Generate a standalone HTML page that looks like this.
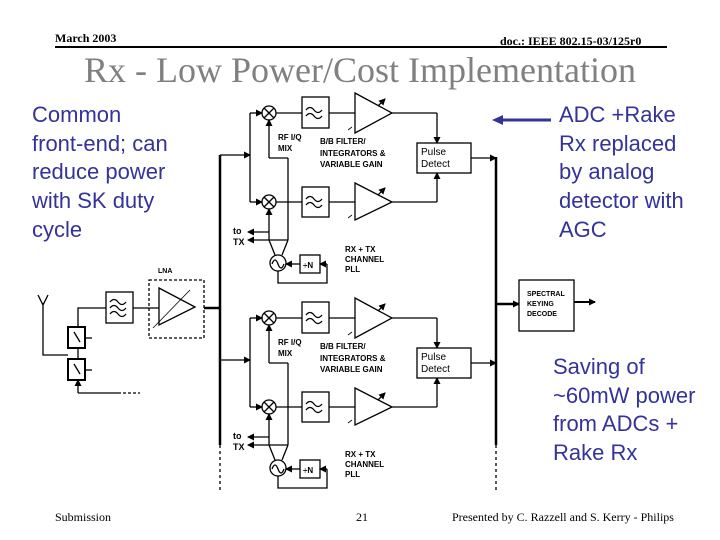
<!DOCTYPE html>
<html><head><meta charset="utf-8"><style>
html,body{margin:0;padding:0;background:#fff;}
body{width:720px;height:540px;position:relative;overflow:hidden;}
.t{position:absolute;white-space:nowrap;}
.hd{font-family:"Liberation Serif",serif;font-weight:bold;font-size:12px;color:#000;}
.blue{font-family:"Liberation Sans",sans-serif;font-size:22px;color:#33339a;line-height:28.7px;}
.ft{font-family:"Liberation Serif",serif;font-size:12px;color:#000;}
svg text{font-family:"Liberation Sans",sans-serif;font-weight:bold;font-size:8px;fill:#000;}
</style></head><body>
<div class="t hd" style="left:55px;top:31px;">March 2003</div>
<div class="t hd" style="left:500px;top:34px;">doc.: IEEE 802.15-03/125r0</div>
<div style="position:absolute;left:55px;top:46px;width:612px;height:2px;background:#000;"></div>
<div class="t" style="left:0;width:720px;text-align:center;top:49px;font-family:'Liberation Serif',serif;font-size:36px;color:#808080;">Rx - Low Power/Cost Implementation</div>
<div class="t blue" style="left:32px;top:101px;">Common<br>front-end; can<br>reduce power<br>with SK duty<br>cycle</div>
<div class="t blue" style="left:559px;top:101px;">ADC +Rake<br>Rx replaced<br>by analog<br>detector with<br>AGC</div>
<div class="t blue" style="left:553px;top:353px;">Saving of<br>~60mW power<br>from ADCs +<br>Rake Rx</div>
<div class="t ft" style="left:55px;top:510px;">Submission</div>
<div class="t ft" style="left:356px;top:510px;">21</div>
<div class="t ft" style="left:452px;top:510px;">Presented by C. Razzell and S. Kerry - Philips</div>
<svg width="720" height="540" style="position:absolute;left:0;top:0" xmlns="http://www.w3.org/2000/svg">
<defs>
<marker id="ar" markerWidth="7" markerHeight="7" refX="6" refY="3.5" orient="auto" markerUnits="userSpaceOnUse"><path d="M0,0 L7,3.5 L0,7z" fill="#000"/></marker>
</defs>
<line x1="500" y1="120" x2="551" y2="120" stroke="#33339a" stroke-width="3"/>
<path d="M492,120 L503,115 L503,125z" fill="#33339a"/>
<g fill="none" stroke="#000" stroke-width="1.3">
<line x1="220" y1="155" x2="220" y2="445" stroke-width="2.5"/>
<line x1="220" y1="445" x2="220" y2="492" stroke-dasharray="3,3"/>
<line x1="496" y1="157" x2="496" y2="445" stroke-width="2.5"/>
<line x1="496" y1="445" x2="496" y2="492" stroke-dasharray="3,3"/>
<g id="sec">
<line x1="220" y1="155" x2="250" y2="155" marker-end="url(#ar)"/>
<line x1="250" y1="113" x2="250" y2="202"/>
<line x1="250" y1="113" x2="262" y2="113" marker-end="url(#ar)"/>
<line x1="250" y1="202" x2="262" y2="202" marker-end="url(#ar)"/>
<circle cx="269" cy="113" r="7" fill="#fff"/>
<path d="M264,108 L274,118 M274,108 L264,118"/>
<circle cx="269" cy="202" r="7" fill="#fff"/>
<path d="M264,197 L274,207 M274,197 L264,207"/>
<line x1="276" y1="113" x2="302" y2="113"/>
<line x1="276" y1="202" x2="302" y2="202"/>
<rect x="302" y="97" width="27" height="31" fill="#fff"/>
<path d="M306,110 q4,-5 8,0 t8,0 M306,116 q4,-5 8,0 t8,0"/>
<rect x="302" y="187" width="27" height="30" fill="#fff"/>
<path d="M306,199 q4,-5 8,0 t8,0 M306,205 q4,-5 8,0 t8,0"/>
<line x1="329" y1="113" x2="355" y2="113"/>
<line x1="329" y1="202" x2="355" y2="202"/>
<path d="M355,93 L392,113 L355,133z" fill="#fff"/>
<path d="M355,183 L392,202 L355,220z" fill="#fff"/>
<path d="M348,130 L352,127 M348,218 L352,215" stroke-width="0.8"/>
<line x1="378" y1="106" x2="385" y2="99" marker-end="url(#ar)"/>
<line x1="378" y1="195" x2="385" y2="188" marker-end="url(#ar)"/>
<line x1="392" y1="113" x2="437" y2="113"/>
<line x1="437" y1="113" x2="437" y2="143" marker-end="url(#ar)"/>
<line x1="392" y1="202" x2="437" y2="202"/>
<line x1="437" y1="202" x2="437" y2="173" marker-end="url(#ar)"/>
<rect x="417" y="143" width="54" height="30" fill="#fff"/>
<line x1="471" y1="158" x2="496" y2="158" marker-end="url(#ar)"/>
<line x1="269" y1="158" x2="269" y2="120" marker-end="url(#ar)"/>
<line x1="269" y1="158" x2="288" y2="158"/>
<line x1="288" y1="158" x2="288" y2="240"/>
<line x1="269" y1="240" x2="269" y2="209" marker-end="url(#ar)"/>
<line x1="269" y1="232" x2="248" y2="232" marker-end="url(#ar)"/>
<line x1="288" y1="240" x2="248" y2="240" marker-end="url(#ar)"/>
<path d="M269,240 L275,255 M288,240 L282,255"/>
<circle cx="278" cy="263" r="8" fill="#fff"/>
<path d="M272,264 q3,-8 6,0 t6,0"/>
<rect x="300" y="255" width="20" height="18" fill="#fff"/>
<line x1="327" y1="264" x2="320" y2="264" marker-end="url(#ar)"/>
<line x1="300" y1="264" x2="286" y2="264" marker-end="url(#ar)"/>
<path d="M327,264 L327,283 L278,283 L278,271"/>
</g>
<use href="#sec" transform="translate(0,205)"/>
<line x1="204" y1="308" x2="220" y2="308" stroke-width="2.5"/>
<rect x="149" y="280" width="55" height="58" stroke-dasharray="3,2"/>
<path d="M159,288 L195,307 L159,325z"/>
<path d="M153,328 L190,290" stroke-width="0.8"/>
<line x1="133" y1="308" x2="159" y2="308"/>
<rect x="106" y="292" width="27" height="31"/>
<path d="M110,302 q4,-5 8,0 t8,0 M110,308 q4,-5 8,0 t8,0 M110,314 q4,-5 8,0 t8,0"/>
<path d="M78,327 L78,308 L106,308"/>
<rect x="68" y="327" width="17" height="21" stroke-width="2"/>
<rect x="68" y="359" width="17" height="21" stroke-width="2"/>
<line x1="78" y1="348" x2="78" y2="359"/>
<path d="M74,332 L80,342 M74,364 L80,374"/>
<line x1="85" y1="338" x2="92" y2="338"/>
<line x1="85" y1="370" x2="92" y2="370"/>
<path d="M43,303 L43,355 L68,355 M38,295 L43,305 L48,295"/>
<line x1="78" y1="393" x2="78" y2="380" marker-end="url(#ar)"/>
<line x1="78" y1="393" x2="118" y2="393"/>
<line x1="118" y1="393" x2="140" y2="393" stroke-dasharray="3,2"/>
<line x1="496" y1="304" x2="519" y2="304" stroke-width="2.5" marker-end="url(#ar)"/>
<rect x="519" y="280" width="55" height="51"/>
<line x1="574" y1="302" x2="595" y2="302" stroke-width="2" marker-end="url(#ar)"/>
</g>
<g id="lbl">
<text x="278" y="140">RF I/Q</text><text x="278" y="151">MIX</text>
<text x="320" y="144">B/B FILTER/</text><text x="320" y="156">INTEGRATORS &amp;</text><text x="320" y="167">VARIABLE GAIN</text>
<text x="421" y="155" style="font-weight:normal;font-size:10px">Pulse</text><text x="421" y="167" style="font-weight:normal;font-size:10px">Detect</text>
<text x="233" y="234" style="font-size:9px">to</text><text x="233" y="245" style="font-size:9px">TX</text>
<text x="345" y="252">RX + TX</text><text x="345" y="262">CHANNEL</text><text x="345" y="272">PLL</text>
<text x="303" y="268" style="font-size:8px">÷N</text>
</g>
<g transform="translate(0,205)">
<text x="278" y="140">RF I/Q</text><text x="278" y="151">MIX</text>
<text x="320" y="144">B/B FILTER/</text><text x="320" y="156">INTEGRATORS &amp;</text><text x="320" y="167">VARIABLE GAIN</text>
<text x="421" y="155" style="font-weight:normal;font-size:10px">Pulse</text><text x="421" y="167" style="font-weight:normal;font-size:10px">Detect</text>
<text x="233" y="234" style="font-size:9px">to</text><text x="233" y="245" style="font-size:9px">TX</text>
<text x="345" y="252">RX + TX</text><text x="345" y="262">CHANNEL</text><text x="345" y="272">PLL</text>
<text x="303" y="268" style="font-size:8px">÷N</text>
</g>
<text x="158" y="273" style="font-size:7px">LNA</text>
<text x="527" y="296" style="font-size:7px">SPECTRAL</text>
<text x="527" y="306" style="font-size:7px">KEYING</text>
<text x="527" y="316" style="font-size:7px">DECODE</text>
</svg>
</body></html>
